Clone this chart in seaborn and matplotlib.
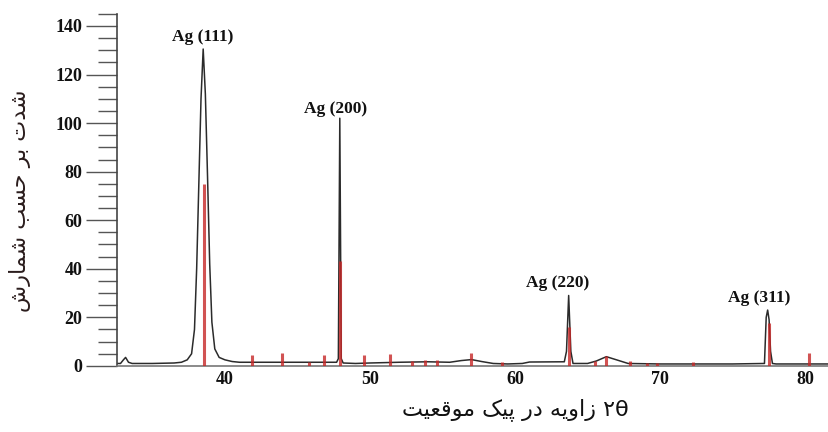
import numpy as np
import pandas as pd
import matplotlib
matplotlib.use("Agg")
import matplotlib.pyplot as plt
from matplotlib.ticker import MultipleLocator
import seaborn as sns

# ─── Data ───────────────────────────────────────────────
two_theta = [32.55, 32.8, 33.0, 33.15, 33.35, 33.6, 35.0, 36.5, 37.0, 37.4,
             37.7, 37.9, 38.05, 38.2, 38.35, 38.5, 38.65, 38.8, 38.95, 39.1,
             39.3, 39.6, 40.0, 40.5, 41.0, 44.0, 47.7, 47.82, 47.92, 48.02,
             48.15, 49.0, 50.0, 52.0, 54.0, 55.5, 56.3, 57.0, 57.7, 58.5,
             59.5, 60.5, 61.0, 63.4, 63.55, 63.7, 63.85, 64.0, 65.0, 65.6,
             66.3, 67.0, 67.8, 70.0, 75.0, 77.2, 77.32, 77.42, 77.52, 77.62,
             77.75, 78.0, 81.65]
intensity = [1.0, 1.0, 2.5, 3.5, 1.5, 1.0, 1.0, 1.2, 1.5, 2.5,
             5.0, 15.0, 40.0, 75.0, 110.0, 130.5, 112.0, 78.0, 42.0, 18.0,
             7.0, 3.5, 2.5, 1.8, 1.5, 1.5, 1.5, 3.0, 102.0, 3.0,
             1.2, 1.0, 1.2, 1.5, 1.7, 1.5, 2.2, 2.6, 1.8, 1.0,
             0.8, 1.0, 1.6, 1.7, 6.0, 29.0, 6.0, 1.0, 1.0, 2.0,
             3.8, 2.5, 1.0, 0.8, 0.8, 1.0, 20.0, 23.0, 19.0, 6.0,
             1.0, 0.8, 0.8]

# reference (red) sticks
ref_pos = [38.56, 41.9, 43.9, 45.8, 46.8, 47.93, 49.6, 51.4, 52.9, 53.8,
           54.6, 57.0, 59.1, 63.72, 65.5, 66.3, 67.9, 69.1, 69.8, 72.3,
           77.5, 80.3]
ref_height = [75, 4.5, 5.3, 1.8, 4.5, 43, 4.5, 5.0, 2.0, 2.5,
              2.5, 5.3, 1.5, 16, 2.0, 4.0, 2.0, 1.2, 1.2, 1.5,
              17.5, 5.3]

peak_labels = ["Ag (111)", "Ag (200)", "Ag (220)", "Ag (311)"]
peak_pos = [38.5, 47.92, 63.7, 77.42]
peak_height = [130.5, 102.0, 29.0, 23.0]

x_ticks = [40, 50, 60, 70, 80]
y_ticks = [0, 20, 40, 60, 80, 100, 120, 140]

y_title = "شدت بر حسب شمارش"
x_title = "موقعیت پیک در زاویه ۲θ"

# label offsets from the peak tip, in points (style, not data)
LABEL_OFFSETS = [(0, 9), (-3, 7), (-8, 9), (-6, 9)]

# ─── Minimal Persian shaping (matplotlib has no bidi/shaping) ─────
# letter: (isolated, final, initial, medial); right-joining letters have no initial/medial
FORMS = {
    "ا": ("\uFE8D", "\uFE8E", None, None),
    "ب": ("\uFE8F", "\uFE90", "\uFE91", "\uFE92"),
    "ت": ("\uFE95", "\uFE96", "\uFE97", "\uFE98"),
    "ح": ("\uFEA1", "\uFEA2", "\uFEA3", "\uFEA4"),
    "د": ("\uFEA9", "\uFEAA", None, None),
    "ر": ("\uFEAD", "\uFEAE", None, None),
    "ز": ("\uFEAF", "\uFEB0", None, None),
    "س": ("\uFEB1", "\uFEB2", "\uFEB3", "\uFEB4"),
    "ش": ("\uFEB5", "\uFEB6", "\uFEB7", "\uFEB8"),
    "ع": ("\uFEC9", "\uFECA", "\uFECB", "\uFECC"),
    "ق": ("\uFED5", "\uFED6", "\uFED7", "\uFED8"),
    "م": ("\uFEE1", "\uFEE2", "\uFEE3", "\uFEE4"),
    "ه": ("\uFEE9", "\uFEEA", "\uFEEB", "\uFEEC"),
    "و": ("\uFEED", "\uFEEE", None, None),
    "پ": ("\uFB56", "\uFB57", "\uFB58", "\uFB59"),
    "ک": ("\uFB8E", "\uFB8F", "\uFB90", "\uFB91"),
    "ی": ("\uFBFC", "\uFBFD", "\uFBFE", "\uFBFF"),
}


def shape_word(word):
    if not any(c in FORMS for c in word):
        return word
    out = []
    for i, c in enumerate(word):
        if c not in FORMS:
            out.append(c)
            continue
        prev = word[i - 1] if i > 0 else None
        nxt = word[i + 1] if i + 1 < len(word) else None
        join_prev = prev in FORMS and FORMS[prev][2] is not None
        join_next = nxt in FORMS and FORMS[c][2] is not None
        iso, fin, ini, med = FORMS[c]
        if join_prev and join_next:
            out.append(med)
        elif join_prev:
            out.append(fin)
        elif join_next:
            out.append(ini)
        else:
            out.append(iso)
    return "".join(reversed(out))


def farsi(text, rtl=True):
    words = [shape_word(w) for w in text.split(" ")]
    if rtl:
        words = words[::-1]
    return " ".join(words)


# ─── Plot ───────────────────────────────────────────────
sns.set_theme(style="ticks")
plt.rcParams["font.family"] = ["Liberation Serif", "DejaVu Sans"]

fig = plt.figure(figsize=(8.29, 4.32), dpi=100)
ax = fig.add_axes([0.141, 0.153, 0.859, 0.815])

profile = pd.DataFrame({"two_theta": two_theta, "intensity": intensity})
sns.lineplot(data=profile, x="two_theta", y="intensity", ax=ax,
             color="#2b2b2b", linewidth=1.1, sort=False, zorder=2)

ax.vlines(ref_pos, 0, ref_height, color="#c62828", linewidth=2.2,
          alpha=0.8, zorder=3)

for label, px, py, off in zip(peak_labels, peak_pos, peak_height, LABEL_OFFSETS):
    ax.annotate(label, xy=(px, py), xytext=off, textcoords="offset points",
                ha="center", va="center", fontsize=12.5, fontweight="bold",
                color="#111111")

ax.set_xlim(32.55, 81.65)
ax.set_ylim(0, 145)
ax.set_xticks(x_ticks)
ax.set_yticks(y_ticks)
ax.yaxis.set_minor_locator(MultipleLocator(5))

ax.tick_params(axis="x", length=0, pad=4, labelsize=13, labelcolor="#111111")
ax.tick_params(axis="y", which="major", length=22, width=1.0, color="#555555",
               pad=3, labelsize=13, labelcolor="#111111")
ax.tick_params(axis="y", which="minor", length=14, width=1.0, color="#555555")
for lab in ax.get_xticklabels() + ax.get_yticklabels():
    lab.set_fontweight("bold")

sns.despine(ax=ax, top=True, right=True)
ax.spines["left"].set_color("#444444")
ax.spines["bottom"].set_color("#777777")
ax.spines["left"].set_linewidth(1.2)
ax.spines["bottom"].set_linewidth(1.2)

ax.set_ylabel(farsi(y_title, rtl=True), family=["DejaVu Sans"], fontsize=16,
              color="#2a1c1c", rotation=90, va="center", ha="center")
ax.yaxis.set_label_coords(-0.136, 0.47)
ax.set_xlabel(farsi(x_title, rtl=False), family=["DejaVu Sans"], fontsize=16,
              color="#111111", va="center", ha="center")
ax.xaxis.set_label_coords(0.559, -0.125)

fig.savefig("out.png", dpi=100)
plt.close(fig)
